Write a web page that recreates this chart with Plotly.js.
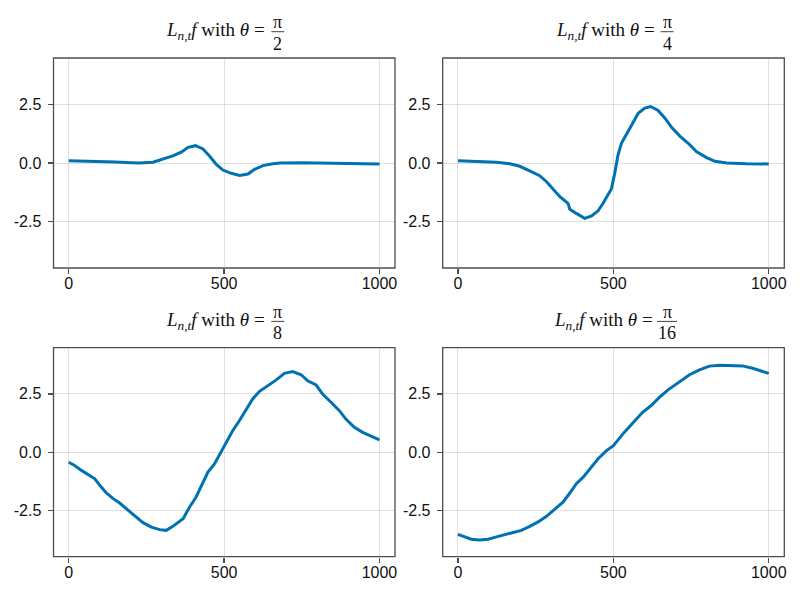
<!DOCTYPE html>
<html>
<head>
<meta charset="utf-8">
<script src="https://cdn.plot.ly/plotly-3.0.1.min.js"></script>
<style>html,body{margin:0;padding:0;background:#fff;}#plot{width:800px;height:600px;}</style>
</head>
<body>
<div id="plot"></div>
<script>
// ---- data ----
const x1 = [0, 48, 100, 150, 200, 228, 271, 303, 335, 362, 384, 408, 432, 453, 475, 496, 523, 550, 577, 598, 625, 657, 680, 750, 850, 950, 1000];
const y1 = [0.1, 0.09, 0.08, 0.04, 0.01, 0.0, 0.03, 0.16, 0.3, 0.46, 0.67, 0.74, 0.6, 0.3, -0.06, -0.3, -0.44, -0.53, -0.47, -0.27, -0.11, -0.03, 0.0, 0.01, -0.01, -0.04, -0.04];

const x2 = [0, 48, 124, 167, 199, 231, 263, 285, 306, 328, 354, 360, 381, 408, 430, 451, 467, 480, 494, 505, 515, 526, 543, 559, 580, 601, 620, 644, 666, 688, 714, 741, 768, 800, 827, 865, 929, 1000];
const y2 = [0.1, 0.07, 0.03, -0.03, -0.14, -0.34, -0.54, -0.8, -1.13, -1.44, -1.72, -1.97, -2.15, -2.36, -2.26, -2.04, -1.72, -1.41, -1.1, -0.4, 0.34, 0.84, 1.27, 1.62, 2.12, 2.34, 2.41, 2.24, 1.91, 1.51, 1.15, 0.84, 0.48, 0.23, 0.07, 0.0, -0.03, -0.04];

const x3 = [0, 19, 41, 62, 84, 100, 121, 143, 164, 185, 212, 239, 266, 293, 314, 335, 368, 389, 410, 427, 448, 469, 486, 506, 528, 549, 571, 592, 614, 640, 667, 694, 721, 748, 769, 796, 817, 844, 871, 892, 919, 946, 973, 1000];
const y3 = [-0.43, -0.57, -0.78, -0.95, -1.14, -1.42, -1.75, -1.99, -2.18, -2.42, -2.74, -3.02, -3.21, -3.32, -3.35, -3.18, -2.85, -2.35, -1.92, -1.42, -0.85, -0.5, -0.1, 0.36, 0.93, 1.35, 1.85, 2.28, 2.61, 2.85, 3.09, 3.38, 3.46, 3.32, 3.06, 2.88, 2.49, 2.14, 1.78, 1.42, 1.07, 0.85, 0.68, 0.53];

const x4 = [0, 21, 43, 70, 97, 124, 150, 177, 204, 231, 258, 285, 311, 338, 360, 381, 403, 430, 451, 478, 500, 535, 562, 594, 621, 648, 675, 707, 745, 777, 809, 841, 873, 916, 948, 975, 1000];
const y4 = [-3.52, -3.63, -3.73, -3.76, -3.73, -3.63, -3.53, -3.45, -3.35, -3.18, -2.99, -2.75, -2.46, -2.14, -1.75, -1.35, -1.07, -0.64, -0.28, 0.07, 0.28, 0.85, 1.24, 1.71, 1.99, 2.35, 2.66, 2.95, 3.32, 3.53, 3.69, 3.73, 3.73, 3.70, 3.60, 3.49, 3.38];

const titleMain = '<i>L</i><sub><i>n,t</i></sub><i>f</i> with <i>θ</i> =';
const titleNum = ['π', 'π', 'π', 'π'];
const titleDen = ['2', '4', '8', '16'];

const xTickVals = [0, 500, 1000];
const xTickText = ['0', '500', '1000'];
const yTickVals = [-2.5, 0, 2.5];
const yTickText = ['-2.5', '0.0', '2.5'];

// ---- layout geometry (pixels in an 800x600 figure) ----
const W = 800, H = 600;
const colPx = [[53.5, 395], [442.7, 784.3]];
const rowPx = [[58, 268], [347.7, 556.7]];
const blue = '#0072B2';
const spine = '#4d4d4d';

const xs = [x1, x2, x3, x4];
const ys = [y1, y2, y3, y4];

const data = [];
const layout = {
  width: W, height: H,
  margin: {l: 0, r: 0, t: 0, b: 0},
  paper_bgcolor: '#fff', plot_bgcolor: '#fff',
  showlegend: false,
  annotations: [], shapes: []
};

function axisCommon() {
  return {
    showgrid: true, gridcolor: 'rgba(0,0,0,0.12)', gridwidth: 1,
    zeroline: false, showline: false,
    ticks: 'outside', ticklen: 5, tickwidth: 1.3, tickcolor: spine,
    tickfont: {family: 'Liberation Sans, Arial, sans-serif', size: 16, color: '#111'},
    fixedrange: true
  };
}

for (let i = 0; i < 4; i++) {
  const r = Math.floor(i / 2), c = i % 2;
  const sfx = i === 0 ? '' : String(i + 1);
  data.push({
    type: 'scatter', mode: 'lines',
    x: xs[i], y: ys[i],
    xaxis: 'x' + sfx, yaxis: 'y' + sfx,
    line: {color: blue, width: 3},
    hoverinfo: 'skip'
  });
  const xa = Object.assign(axisCommon(), {
    domain: [colPx[c][0] / W, colPx[c][1] / W],
    range: [-49, 1050], anchor: 'y' + sfx,
    tickmode: 'array', tickvals: xTickVals, ticktext: xTickText,
    ticklabelstandoff: -4
  });
  const ya = Object.assign(axisCommon(), {
    domain: [1 - rowPx[r][1] / H, 1 - rowPx[r][0] / H],
    range: [-4.48, 4.48], anchor: 'x' + sfx,
    tickmode: 'array', tickvals: yTickVals, ticktext: yTickText,
    ticklabelstandoff: 3
  });
  layout['xaxis' + sfx] = xa;
  layout['yaxis' + sfx] = ya;

  // frame around the panel
  layout.shapes.push({
    type: 'rect', xref: 'paper', yref: 'paper',
    x0: colPx[c][0] / W, x1: colPx[c][1] / W,
    y0: 1 - rowPx[r][1] / H, y1: 1 - rowPx[r][0] / H,
    line: {color: spine, width: 1.3}, fillcolor: 'rgba(0,0,0,0)', layer: 'above'
  });

  // title: main text + stacked fraction
  const cx = (colPx[c][0] + colPx[c][1]) / 2;
  const top = rowPx[r][0];
  const wide = titleDen[i].length > 1;
  const mainRight = cx + (wide ? 40 : 42);
  const fracC = cx + 53.5;
  const barHalf = wide ? 10 : 6.5;
  const tfont = {family: 'Liberation Serif, DejaVu Serif, serif', size: 19, color: '#111'};
  const ffont = {family: 'Liberation Serif, DejaVu Serif, serif', size: 18, color: '#111'};
  layout.annotations.push({
    xref: 'paper', yref: 'paper', x: mainRight / W, y: 1 - (top - 26.5) / H,
    xanchor: 'right', yanchor: 'middle', showarrow: false, text: titleMain, font: tfont,
    borderpad: 0
  });
  layout.annotations.push({
    xref: 'paper', yref: 'paper', x: fracC / W, y: 1 - (top - 24.8) / H,
    xanchor: 'center', yanchor: 'bottom', showarrow: false, text: titleNum[i], font: ffont,
    borderpad: 0
  });
  layout.annotations.push({
    xref: 'paper', yref: 'paper', x: fracC / W, y: 1 - (top - 14.5) / H,
    xanchor: 'center', yanchor: 'middle', showarrow: false, text: titleDen[i], font: ffont,
    borderpad: 0
  });
  layout.shapes.push({
    type: 'line', xref: 'paper', yref: 'paper',
    x0: (fracC - barHalf) / W, x1: (fracC + barHalf) / W,
    y0: 1 - (top - 26.3) / H, y1: 1 - (top - 26.3) / H,
    line: {color: '#111', width: 0.8}
  });
}

Plotly.newPlot('plot', data, layout, {displayModeBar: false, staticPlot: true});
</script>
</body>
</html>
